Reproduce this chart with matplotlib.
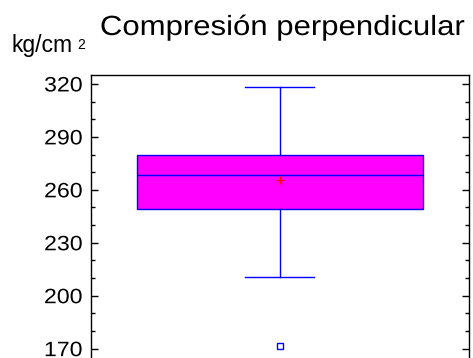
import matplotlib
matplotlib.use("Agg")
import matplotlib.pyplot as plt
from matplotlib.patheffects import AbstractPathEffect
from matplotlib.transforms import Affine2D

# datos (kg/cm2)
q1 = 249.0
mediana = 268.3
q3 = 280.0
bigote_inf = 210.5
bigote_sup = 318.0
media = 265.6
atipicos = [171.7]
yticks = [170, 200, 230, 260, 290, 320]


class Stretch(AbstractPathEffect):
    # estira el texto en horizontal (la imagen original esta ensanchada)
    def __init__(self, sx, anchor="center"):
        super().__init__()
        self.sx = sx
        self.anchor = anchor

    def draw_path(self, renderer, gc, tpath, affine, rgbFace=None):
        ext = tpath.get_extents()
        x0 = {"left": ext.x0, "right": ext.x1, "center": (ext.x0 + ext.x1) / 2}[self.anchor]
        t = Affine2D().translate(-x0, 0).scale(self.sx, 1).translate(x0, 0) + affine
        renderer.draw_path(gc, tpath, t, rgbFace)


plt.rcParams["font.family"] = ["Liberation Sans", "DejaVu Sans"]

fig = plt.figure(figsize=(4.73, 3.58), dpi=100, facecolor="white")
W, H = 473, 358
ax = fig.add_axes([91 / W, 0, (468.5 - 91) / W, 1 - 75.3 / H])

stats = [dict(med=mediana, q1=q1, q3=q3, whislo=bigote_inf, whishi=bigote_sup,
              mean=media, fliers=atipicos)]
azul = "#0000ff"
ax.bxp(stats, positions=[0.5], widths=0.757, capwidths=0.183, showmeans=True,
       patch_artist=True,
       boxprops=dict(facecolor="#ff00ff", edgecolor=azul, linewidth=1.0),
       medianprops=dict(color=azul, linewidth=1.0),
       whiskerprops=dict(color=azul, linewidth=1.0),
       capprops=dict(color=azul, linewidth=1.0),
       meanprops=dict(marker="+", markeredgecolor="red", markersize=6, markeredgewidth=0.8),
       flierprops=dict(marker="s", markerfacecolor="none", markeredgecolor=azul,
                       markersize=4.5, markeredgewidth=1.0))

ax.set_xlim(0, 1)
ax.set_ylim(164.7, 324.9)
ax.set_xticks([])
ax.set_yticks(yticks)
ax.set_yticks(range(180, 330, 10), minor=True)
ax.tick_params(axis="y", which="both", direction="in", left=True, right=True,
               labelsize=15, pad=6, width=1.0, color="black")
ax.tick_params(axis="y", which="major", length=5)
ax.tick_params(axis="y", which="minor", length=3)
ax.spines["bottom"].set_visible(False)
for s in ["top", "left", "right"]:
    ax.spines[s].set_linewidth(1.0)

for lbl in ax.get_yticklabels():
    lbl.set_path_effects([Stretch(1.11, "right")])

fig.text(282 / W, 1 - 35 / H, "Compresión perpendicular", fontsize=20,
         ha="center", va="baseline", path_effects=[Stretch(1.12, "center")])
fig.text(11 / W, 1 - 51.7 / H, "kg/cm", fontsize=16.5, ha="left", va="baseline")
fig.text(77 / W, 1 - 49.3 / H, "2", fontsize=10, ha="left", va="baseline")

fig.savefig("out.png", dpi=100)
